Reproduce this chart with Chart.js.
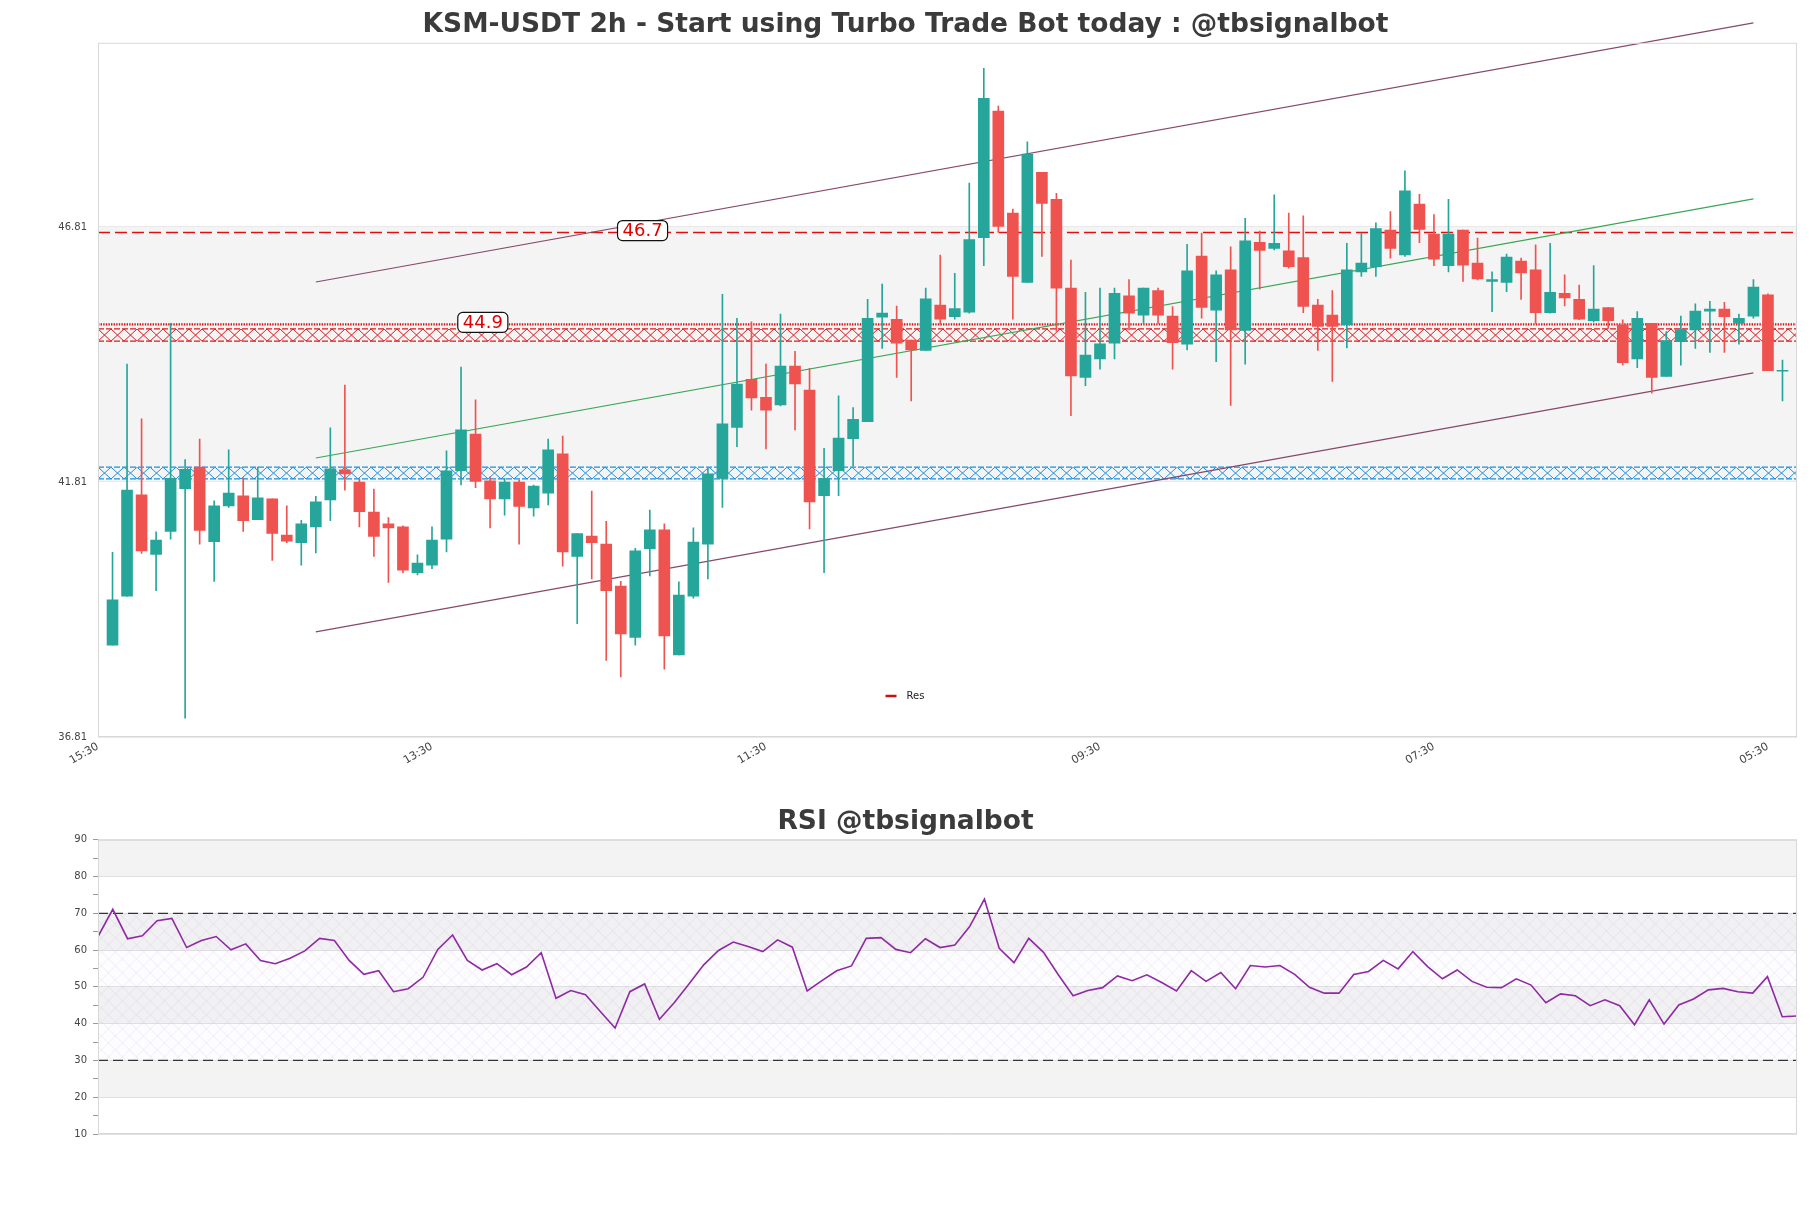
<!DOCTYPE html>
<html>
<head>
<meta charset="utf-8">
<script src="https://cdn.jsdelivr.net/npm/chart.js@4.4.1/dist/chart.umd.min.js"></script>
<style>
  html, body { margin: 0; padding: 0; background: #fff; }
  #wrap { position: relative; width: 1811px; height: 1208px; }
  #price { position: absolute; left: 0; top: 0; }
  #rsi { position: absolute; left: 0; top: 790px; }
</style>
</head>
<body>
<div id="wrap">
  <canvas id="price" width="1811" height="790"></canvas>
  <canvas id="rsi" width="1811" height="418"></canvas>
</div>
<script>
const FONT = "'DejaVu Sans', 'Liberation Sans', sans-serif";
Chart.defaults.font.family = FONT;
Chart.defaults.animation = false;

// x axis
const xTicks = [0, 23, 46, 69, 92, 115];
const xLabels = ["15:30", "13:30", "11:30", "09:30", "07:30", "05:30"];
const yTicks = [36.81, 41.81, 46.81];

// candles 1..116
const opens = [
  38.61, 39.57, 41.56, 40.39, 40.84, 41.68, 42.10, 40.64, 41.34, 41.54,
  41.07, 41.48, 40.77, 40.62, 40.93, 41.46, 42.05, 41.81, 41.22, 40.99,
  40.93, 40.03, 40.18, 40.69, 42.03, 42.75, 41.83, 41.48, 41.81, 41.30,
  41.59, 42.36, 40.35, 40.75, 40.59, 39.77, 38.76, 40.50, 40.87, 38.42,
  39.57, 40.59, 41.88, 42.88, 43.82, 43.47, 43.32, 44.08, 43.61, 41.54,
  42.03, 42.66, 42.99, 45.04, 45.00, 44.59, 44.39, 45.28, 45.05, 45.14,
  46.60, 49.08, 47.08, 45.72, 47.88, 47.35, 45.61, 43.86, 44.22, 44.53,
  45.46, 45.08, 45.56, 45.06, 44.51, 46.24, 45.18, 45.97, 44.78, 46.51,
  46.39, 46.34, 46.21, 45.28, 45.08, 44.89, 45.93, 46.03, 46.75, 46.26,
  47.26, 46.67, 46.05, 46.75, 46.10, 45.74, 45.72, 46.14, 45.97, 45.13,
  45.51, 45.39, 44.97, 45.23, 44.89, 44.22, 44.92, 43.88, 44.56, 44.79,
  45.16, 45.20, 44.92, 45.06, 45.48, 43.98
];
const highs = [
  40.43, 44.12, 43.05, 40.83, 44.92, 42.25, 42.65, 41.44, 42.44, 41.89,
  42.10, 41.48, 41.34, 41.06, 41.53, 42.87, 43.71, 41.86, 41.67, 41.11,
  40.95, 40.38, 40.93, 42.42, 44.06, 43.42, 41.91, 41.88, 41.85, 41.75,
  42.65, 42.71, 40.80, 41.63, 41.04, 39.86, 40.51, 41.26, 40.99, 39.85,
  40.91, 42.08, 45.49, 45.02, 44.95, 44.12, 45.10, 44.37, 44.04, 42.47,
  43.50, 43.27, 45.39, 45.69, 45.26, 44.59, 45.61, 46.26, 45.90, 47.67,
  49.92, 49.18, 47.16, 48.48, 47.88, 47.47, 46.16, 45.53, 45.61, 45.61,
  45.78, 45.61, 45.61, 45.25, 46.47, 46.69, 45.95, 46.42, 46.98, 46.73,
  47.44, 47.08, 47.03, 45.39, 45.56, 46.49, 46.69, 46.89, 47.11, 47.91,
  47.45, 47.05, 47.35, 46.75, 46.59, 45.93, 46.28, 46.20, 46.46, 46.49,
  45.87, 45.67, 46.05, 45.23, 44.99, 45.15, 44.92, 44.76, 45.06, 45.30,
  45.35, 45.33, 45.10, 45.78, 45.50, 44.20
];
const lows = [
  38.61, 39.57, 40.41, 39.68, 40.69, 37.18, 40.59, 39.86, 41.31, 40.84,
  41.07, 40.27, 40.62, 40.18, 40.42, 41.05, 41.65, 40.93, 40.35, 39.84,
  40.03, 39.99, 40.11, 40.44, 41.75, 41.70, 40.91, 41.16, 40.59, 41.14,
  41.36, 40.16, 39.03, 39.91, 38.31, 37.99, 38.61, 39.97, 38.14, 38.42,
  39.53, 39.91, 41.31, 42.50, 43.22, 42.46, 43.30, 42.83, 40.89, 40.03,
  41.54, 42.12, 42.99, 44.43, 43.86, 43.40, 44.39, 44.89, 45.00, 45.12,
  46.05, 46.70, 45.00, 45.72, 46.23, 44.76, 43.11, 43.70, 44.02, 44.22,
  44.79, 44.92, 44.92, 44.02, 44.40, 45.02, 44.17, 43.31, 44.12, 45.59,
  46.36, 46.00, 45.13, 44.39, 43.78, 44.44, 45.84, 45.84, 46.20, 46.23,
  46.50, 46.05, 45.93, 45.74, 45.77, 45.15, 45.54, 45.39, 44.92, 45.12,
  45.26, 44.99, 44.95, 44.82, 44.10, 44.05, 43.55, 43.88, 44.10, 44.43,
  44.35, 44.35, 44.51, 45.02, 43.99, 43.40
];
const closes = [
  39.50, 41.65, 40.46, 40.67, 41.88, 42.06, 40.86, 41.34, 41.59, 41.05,
  41.50, 40.80, 40.65, 40.99, 41.42, 42.07, 41.97, 41.23, 40.74, 40.91,
  40.08, 40.22, 40.67, 42.03, 42.83, 41.82, 41.48, 41.81, 41.33, 41.73,
  42.44, 40.44, 40.80, 40.62, 39.68, 38.83, 40.46, 40.87, 38.79, 39.59,
  40.63, 41.97, 42.95, 43.73, 43.46, 43.22, 44.08, 43.73, 41.42, 41.88,
  42.67, 43.04, 45.02, 45.12, 44.53, 44.40, 45.40, 45.00, 45.21, 46.56,
  49.33, 46.82, 45.84, 48.24, 47.27, 45.61, 43.89, 44.30, 44.52, 45.51,
  45.12, 45.61, 45.08, 44.54, 45.95, 45.23, 45.87, 44.79, 46.54, 46.35,
  46.49, 46.03, 45.25, 44.86, 44.86, 45.97, 46.10, 46.78, 46.39, 47.52,
  46.76, 46.18, 46.67, 46.06, 45.79, 45.78, 46.22, 45.91, 45.13, 45.53,
  45.42, 45.00, 45.20, 44.97, 44.15, 45.02, 43.86, 44.58, 44.80, 45.16,
  45.20, 45.05, 45.02, 45.63, 43.99, 44.00
];

// trend channel (start/end index and values)
const channelX = [15, 114];
const channelUpper = [45.73, 50.81];
const channelMid = [42.28, 47.36];
const channelLower = [38.87, 43.95];

// levels
const resLevel = 46.7;
const supLevel = 44.9;
const redZone = [44.57, 44.81];
const blueZone = [41.87, 42.10];
const priceBands = [[41.81, 46.81]];
const tagValues = [46.7, 44.9];
const tagIndex = [37.5, 26.5];

// RSI
const rsiValues = [
  63.7, 71.1, 63.1, 63.9, 68.0, 68.6, 60.7, 62.6, 63.7, 60.1,
  61.7, 57.2, 56.3, 57.8, 59.8, 63.2, 62.6, 57.2, 53.4, 54.4,
  48.7, 49.5, 52.6, 60.2, 64.1, 57.2, 54.6, 56.3, 53.3, 55.4,
  59.3, 46.9, 49.0, 47.9, 43.3, 38.8, 48.7, 50.8, 41.2, 45.7,
  50.8, 56.0, 59.9, 62.2, 61.0, 59.6, 62.8, 60.8, 48.9, 51.7,
  54.4, 55.7, 63.2, 63.4, 60.2, 59.3, 63.1, 60.7, 61.4, 66.4,
  73.9, 60.5, 56.6, 63.2, 59.4, 53.3, 47.6, 49.0, 49.8, 53.0,
  51.7, 53.3, 51.2, 48.9, 54.4, 51.5, 53.9, 49.5, 55.8, 55.4,
  55.8, 53.4, 49.9, 48.3, 48.3, 53.4, 54.2, 57.2, 54.9, 59.6,
  55.5, 52.2, 54.6, 51.5, 49.9, 49.8, 52.2, 50.5, 45.7, 48.1,
  47.6, 44.9, 46.5, 44.9, 39.7, 46.5, 39.9, 45.1, 46.7, 49.2,
  49.6, 48.7, 48.3, 52.8, 41.9, 42.1
];
const rsiBands = [[20, 30], [40, 50], [60, 70], [80, 90]];
const rsiHatch = [30, 70];
const rsiLevels = [70, 30];

const upColor = "#26a69a";
const downColor = "#ef5350";
const candleColors = opens.map((o, i) => (closes[i] >= o ? upColor : downColor));

const hline = (y, x0, x1) => [{ x: x0, y: y }, { x: x1, y: y }];

function drawHatchZone(ctx, area, yTop, yBot, color) {
  const cell = 13;
  ctx.save();
  ctx.beginPath();
  ctx.rect(area.left, yTop, area.right - area.left, yBot - yTop);
  ctx.clip();
  ctx.strokeStyle = color;
  ctx.lineWidth = 1;
  ctx.beginPath();
  for (let x = area.left; x < area.right; x += cell) {
    ctx.moveTo(x, yTop);
    ctx.lineTo(x + cell, yBot);
    ctx.moveTo(x + cell, yTop);
    ctx.lineTo(x, yBot);
  }
  ctx.stroke();
  ctx.restore();
  ctx.save();
  ctx.strokeStyle = color;
  ctx.lineWidth = 1.3;
  ctx.setLineDash([6, 2]);
  ctx.beginPath();
  ctx.moveTo(area.left, yTop);
  ctx.lineTo(area.right, yTop);
  ctx.moveTo(area.left, yBot);
  ctx.lineTo(area.right, yBot);
  ctx.stroke();
  ctx.restore();
}

const priceDecor = {
  id: "priceDecor",
  beforeDraw(chart) {
    const { ctx, chartArea: a, scales } = chart;
    ctx.save();
    ctx.fillStyle = "#f4f4f4";
    priceBands.forEach(([lo, hi]) => {
      const y1 = scales.y.getPixelForValue(hi);
      const y2 = scales.y.getPixelForValue(lo);
      ctx.fillRect(a.left, y1, a.right - a.left, y2 - y1);
    });
    ctx.restore();
  },
  beforeDatasetsDraw(chart) {
    const { ctx, chartArea: a, scales } = chart;
    drawHatchZone(ctx, a, scales.y.getPixelForValue(redZone[1]), scales.y.getPixelForValue(redZone[0]), "#e0181b");
    drawHatchZone(ctx, a, scales.y.getPixelForValue(blueZone[1]), scales.y.getPixelForValue(blueZone[0]), "#1f8fdc");
  },
  afterDraw(chart) {
    const { ctx, chartArea: a, scales } = chart;
    // frame
    ctx.save();
    ctx.strokeStyle = "#d8d8d8";
    ctx.lineWidth = 1;
    ctx.strokeRect(a.left + 0.5, a.top + 0.5, a.right - a.left - 1, a.bottom - a.top - 1);
    ctx.restore();

    // level tags
    ctx.save();
    ctx.font = "18px " + FONT;
    ctx.textAlign = "center";
    ctx.textBaseline = "middle";
    tagValues.forEach((v, i) => {
      const x = scales.x.getPixelForValue(tagIndex[i]);
      const y = scales.y.getPixelForValue(v) - 2;
      const text = v.toFixed(1);
      const w = ctx.measureText(text).width + 10;
      const h = 20;
      ctx.beginPath();
      ctx.roundRect(x - w / 2, y - h / 2, w, h, 5);
      ctx.fillStyle = "#ffffff";
      ctx.fill();
      ctx.strokeStyle = "#111";
      ctx.lineWidth = 1.2;
      ctx.stroke();
      ctx.fillStyle = "#e00000";
      ctx.fillText(text, x, y + 1);
    });
    ctx.restore();

    // legend
    ctx.save();
    const lx = chart.width / 2 - 20;
    const ly = a.bottom - 41;
    ctx.strokeStyle = "#cc1010";
    ctx.lineWidth = 2.5;
    ctx.beginPath();
    ctx.moveTo(lx, ly);
    ctx.lineTo(lx + 11, ly);
    ctx.stroke();
    ctx.fillStyle = "#222";
    ctx.font = "10px " + FONT;
    ctx.textBaseline = "middle";
    ctx.fillText("Res", lx + 21, ly);
    ctx.restore();
  }
};

new Chart(document.getElementById("price"), {
  type: "bar",
  data: {
    datasets: [
      {
        type: "bar",
        label: "body",
        data: opens.map((o, i) => ({ x: i + 1, y: [o, closes[i]] })),
        backgroundColor: candleColors,
        barThickness: 11,
        minBarLength: 1,
        grouped: false,
        order: 1
      },
      {
        type: "bar",
        label: "wick",
        data: lows.map((l, i) => ({ x: i + 1, y: [l, highs[i]] })),
        backgroundColor: candleColors,
        barThickness: 1,
        grouped: false,
        order: 2
      },
      {
        type: "line",
        label: "upper",
        data: channelX.map((x, i) => ({ x: x, y: channelUpper[i] })),
        borderColor: "#86496a",
        borderWidth: 1.2,
        pointRadius: 0,
        clip: false,
        order: 3
      },
      {
        type: "line",
        label: "mid",
        data: channelX.map((x, i) => ({ x: x, y: channelMid[i] })),
        borderColor: "#3aa655",
        borderWidth: 1.2,
        pointRadius: 0,
        order: 3
      },
      {
        type: "line",
        label: "lower",
        data: channelX.map((x, i) => ({ x: x, y: channelLower[i] })),
        borderColor: "#86496a",
        borderWidth: 1.2,
        pointRadius: 0,
        order: 3
      },
      {
        type: "line",
        label: "Res",
        data: hline(resLevel, 0, 117),
        borderColor: "#e01010",
        borderWidth: 1.4,
        borderDash: [12, 5],
        pointRadius: 0,
        order: 3
      },
      {
        type: "line",
        label: "Sup",
        data: hline(supLevel, 0, 117),
        borderColor: "#e01010",
        borderWidth: 2.4,
        borderDash: [1.4, 1.2],
        pointRadius: 0,
        order: 3
      }
    ]
  },
  options: {
    responsive: false,
    animation: false,
    layout: { padding: { left: 14, right: 14, top: 0, bottom: 0 } },
    plugins: {
      legend: { display: false },
      tooltip: { enabled: false },
      title: {
        display: true,
        text: "KSM-USDT 2h - Start using Turbo Trade Bot today : @tbsignalbot",
        color: "#3b3b3b",
        font: { size: 26.5, weight: "bold", family: FONT },
        padding: { top: 9, bottom: 2 }
      }
    },
    scales: {
      x: {
        type: "linear",
        min: 0,
        max: 117,
        offset: false,
        afterBuildTicks: (s) => { s.ticks = xTicks.map((v) => ({ value: v })); },
        afterFit: (s) => { s.height = 53; },
        grid: { display: false, drawTicks: false },
        border: { display: false },
        ticks: {
          autoSkip: false,
          maxRotation: 30,
          minRotation: 30,
          padding: 3,
          color: "#444",
          font: { size: 11 },
          callback: (v) => xLabels[xTicks.indexOf(v)] || ""
        }
      },
      y: {
        min: 36.81,
        max: 50.42,
        afterBuildTicks: (s) => { s.ticks = yTicks.map((v) => ({ value: v })); },
        afterFit: (s) => { s.width = 84; },
        grid: { color: "#e9e9e9", drawTicks: false },
        border: { display: false },
        ticks: {
          padding: 11,
          color: "#444",
          font: { size: 10 },
          callback: (v) => v.toFixed(2)
        }
      }
    }
  },
  plugins: [priceDecor]
});

const rsiDecor = {
  id: "rsiDecor",
  beforeDraw(chart) {
    const { ctx, chartArea: a, scales } = chart;
    ctx.save();
    ctx.fillStyle = "#f3f3f3";
    rsiBands.forEach(([lo, hi]) => {
      const y1 = scales.y.getPixelForValue(hi);
      const y2 = scales.y.getPixelForValue(lo);
      ctx.fillRect(a.left, y1, a.right - a.left, y2 - y1);
    });
    ctx.restore();
  },
  beforeDatasetsDraw(chart) {
    const { ctx, chartArea: a, scales } = chart;
    const top = scales.y.getPixelForValue(rsiHatch[1]);
    const bot = scales.y.getPixelForValue(rsiHatch[0]);
    const h = bot - top;
    const step = 14;
    ctx.save();
    ctx.beginPath();
    ctx.rect(a.left, top, a.right - a.left, h);
    ctx.clip();
    ctx.fillStyle = "rgba(220, 210, 230, 0.06)";
    ctx.fillRect(a.left, top, a.right - a.left, h);
    ctx.strokeStyle = "rgba(195, 185, 210, 0.38)";
    ctx.lineWidth = 0.6;
    ctx.beginPath();
    for (let c = -h; c < a.right - a.left + h; c += step) {
      ctx.moveTo(a.left + c, top);
      ctx.lineTo(a.left + c + h, bot);
      ctx.moveTo(a.left + c + h, top);
      ctx.lineTo(a.left + c, bot);
    }
    ctx.stroke();
    ctx.restore();
  },
  afterDraw(chart) {
    const { ctx, chartArea: a } = chart;
    ctx.save();
    ctx.strokeStyle = "#d8d8d8";
    ctx.lineWidth = 1;
    ctx.strokeRect(a.left + 0.5, a.top + 0.5, a.right - a.left - 1, a.bottom - a.top - 1);
    ctx.restore();
  }
};

new Chart(document.getElementById("rsi"), {
  type: "line",
  data: {
    datasets: [
      {
        label: "RSI",
        data: rsiValues.map((v, j) => ({ x: j, y: v })),
        borderColor: "#8e2aa3",
        borderWidth: 1.6,
        pointRadius: 0,
        tension: 0,
        order: 1
      },
      ...rsiLevels.map((lv) => ({
        label: "level " + lv,
        data: hline(lv, 0, rsiValues.length - 1),
        borderColor: "#333",
        borderWidth: 1.2,
        borderDash: [10, 5],
        pointRadius: 0,
        order: 2
      }))
    ]
  },
  options: {
    responsive: false,
    animation: false,
    layout: { padding: { left: 14, right: 14, top: 0, bottom: 74 } },
    plugins: {
      legend: { display: false },
      tooltip: { enabled: false },
      title: {
        display: true,
        text: "RSI @tbsignalbot",
        color: "#3b3b3b",
        font: { size: 26.5, weight: "bold", family: FONT },
        padding: { top: 16, bottom: 2 }
      }
    },
    scales: {
      x: {
        type: "linear",
        min: 0,
        max: rsiValues.length - 1,
        display: false
      },
      y: {
        min: 10,
        max: 90,
        afterFit: (s) => { s.width = 84; },
        grid: {
          color: (c) => (c.tick && c.tick.value % 10 === 0 ? "#e0e0e0" : "rgba(0,0,0,0)"),
          tickColor: "#999",
          tickLength: 5,
          drawTicks: true
        },
        border: { display: false },
        ticks: {
          stepSize: 5,
          padding: 6,
          color: "#444",
          font: { size: 10 },
          callback: (v) => (v % 10 === 0 ? String(v) : "")
        }
      }
    }
  },
  plugins: [rsiDecor]
});
</script>
</body>
</html>
